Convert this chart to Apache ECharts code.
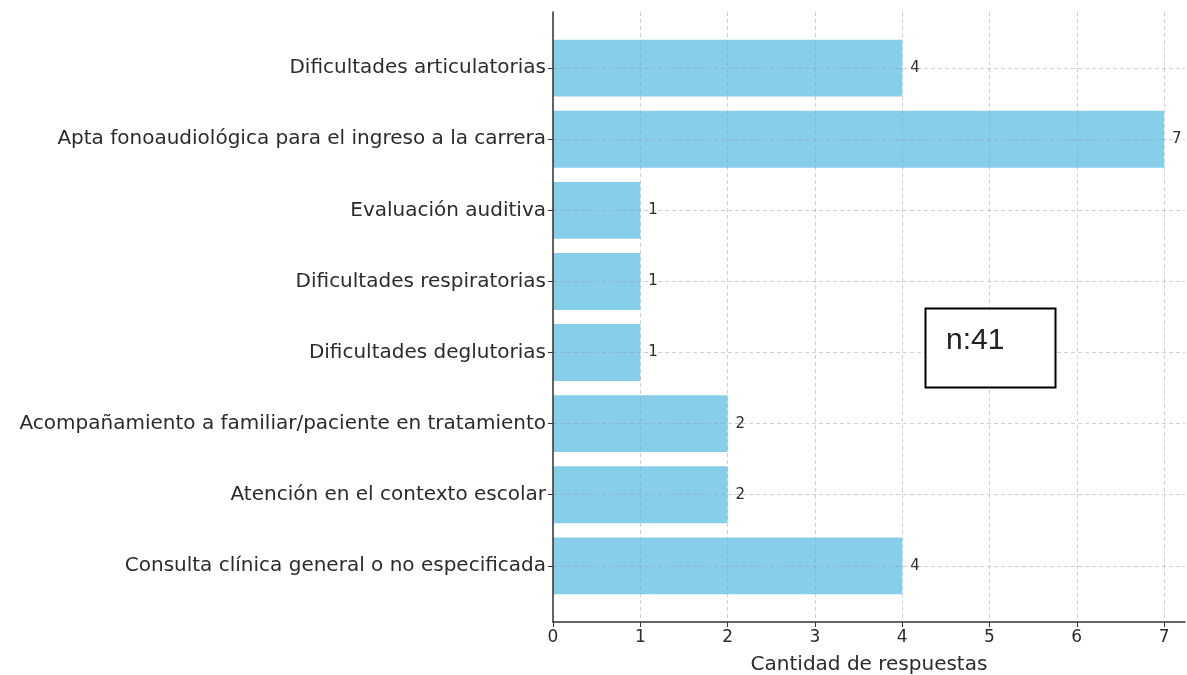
<!DOCTYPE html>
<html>
<head>
<meta charset="utf-8">
<script src="https://cdn.jsdelivr.net/npm/echarts@6/dist/echarts.min.js"></script>
<style>
  html, body { margin: 0; padding: 0; background: #fff; }
  #chart { width: 1187px; height: 675px; }
</style>
</head>
<body>
<div id="chart"></div>
<script>
// categorias (de arriba hacia abajo) y cantidad de respuestas
const categorias = [
  'Dificultades articulatorias',
  'Apta fonoaudiológica para el ingreso a la carrera',
  'Evaluación auditiva',
  'Dificultades respiratorias',
  'Dificultades deglutorias',
  'Acompañamiento a familiar/paciente en tratamiento',
  'Atención en el contexto escolar',
  'Consulta clínica general o no especificada'
];
const respuestas = [4, 7, 1, 1, 1, 2, 2, 4];
const ticksX = [0, 1, 2, 3, 4, 5, 6, 7];
const posiciones = [0, 1, 2, 3, 4, 5, 6, 7];
const textoN = 'n:41';

const chart = echarts.init(document.getElementById('chart'));
const textColor = '#2b2b2b';
const gridLine = { show: true, lineStyle: { color: 'rgba(150,150,150,0.45)', type: [4, 3], width: 1 } };

chart.setOption({
  animation: false,
  grid: [
    { left: 553, top: 12, width: 632, height: 610, containLabel: false, outerBoundsMode: 'none' },
    { left: 553, top: 32.6, width: 632, height: 568.8, containLabel: false, outerBoundsMode: 'none' }
  ],
  xAxis: [
    {
      gridIndex: 0, type: 'value', min: 0, max: 7.24, z: 5,
      name: 'Cantidad de respuestas', nameLocation: 'middle', nameGap: 33,
      nameTextStyle: { fontFamily: 'DejaVu Sans', fontSize: 20, color: textColor },
      axisLine: { show: true, onZero: false, lineStyle: { color: '#333', width: 1.5 } },
      axisTick: { show: true, length: 5, customValues: ticksX, lineStyle: { color: '#333' } },
      axisLabel: { customValues: ticksX, fontFamily: 'DejaVu Sans', fontSize: 17, color: textColor, margin: 7 },
      splitLine: gridLine
    },
    { gridIndex: 1, type: 'value', min: 0, max: 7.24, show: false, splitLine: { show: false } }
  ],
  yAxis: [
    {
      gridIndex: 0, type: 'value', min: -0.79, max: 7.79, inverse: true, z: 5,
      axisLine: { show: true, onZero: false, lineStyle: { color: '#333', width: 1.5 } },
      axisTick: { show: true, length: 5, customValues: posiciones, lineStyle: { color: '#333' } },
      axisLabel: {
        customValues: posiciones, fontFamily: 'DejaVu Sans', fontSize: 20, color: textColor, margin: 7,
        formatter: v => categorias[v] || ''
      },
      splitLine: gridLine
    },
    { gridIndex: 1, type: 'category', data: categorias, inverse: true, show: false }
  ],
  series: [{
    type: 'bar',
    xAxisIndex: 1, yAxisIndex: 1,
    data: respuestas,
    barWidth: '80%',
    itemStyle: { color: '#87CEEB' },
    label: {
      show: true, position: 'right', distance: 8,
      fontFamily: 'DejaVu Sans', fontSize: 15, color: textColor
    }
  }],
  graphic: [
    {
      type: 'rect', z: 10,
      shape: { x: 925.5, y: 308.5, width: 130, height: 79 },
      style: { fill: '#fff', stroke: '#000', lineWidth: 2 }
    },
    {
      type: 'text', z: 11, x: 946, y: 341,
      style: {
        text: textoN, fill: '#222', font: '30px "Liberation Sans", Arial, sans-serif',
        verticalAlign: 'middle', align: 'left'
      }
    }
  ]
});
</script>
</body>
</html>
